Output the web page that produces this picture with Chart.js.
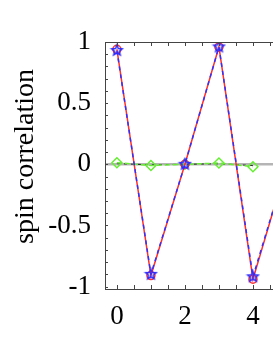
<!DOCTYPE html>
<html><head><meta charset="utf-8">
<script src="https://cdn.jsdelivr.net/npm/chart.js@4"></script>
<style>html,body{margin:0;padding:0;background:#fff;overflow:hidden;width:273px;height:353px}canvas{display:block}</style>
</head><body>
<canvas id="c" width="340" height="353"></canvas>
<script>
const xValues = [0, 1, 2, 3, 4, 5];
const redSeries = [0.94, -0.91, 0.0, 0.96, -0.94, 0.0];
const blueSeries = [0.93, -0.90, 0.0, 0.96, -0.92, 0.0];
const greenSeries = [0.013, -0.01, 0.0, 0.01, -0.02];
const blackSeries = [0.005, -0.004, 0.0, 0.004, -0.01];
const yTickLabels = [-1, -0.5, 0, 0.5, 1];
const xTickLabels = [0, 2, 4, 6];
const yTitle = 'spin correlation';

function pts(arr){ return arr.map((y,i)=>({x:xValues[i], y:y})); }

function makeStar(color, r){
  const s = Math.ceil(r*2+4), c = document.createElement('canvas');
  c.width = s; c.height = s;
  const g = c.getContext('2d');
  g.strokeStyle = color; g.lineWidth = 1.5;
  g.beginPath();
  for (let k=0;k<10;k++){
    const rr = k%2===0 ? r : r*0.45;
    const a = -Math.PI/2 + k*Math.PI/5;
    const px = s/2 + rr*Math.cos(a), py = s/2 + rr*Math.sin(a);
    k===0 ? g.moveTo(px,py) : g.lineTo(px,py);
  }
  g.closePath(); g.stroke();
  return c;
}
const starImg = makeStar('#2a2aff', 5.5);

const serif = "'Liberation Serif','DejaVu Serif',serif";

const frame = {
  id:'frame',
  beforeDatasetsDraw(chart){
    const {ctx, chartArea:a, scales:{x,y}} = chart;
    ctx.save();
    ctx.strokeStyle = '#b5b5b5'; ctx.lineWidth = 2.5;
    const y0 = y.getPixelForValue(0);
    ctx.beginPath(); ctx.moveTo(a.left, y0); ctx.lineTo(a.right, y0); ctx.stroke();
    ctx.restore();
  },
  afterDatasetsDraw(chart){
    const {ctx, chartArea:a, scales:{x,y}} = chart;
    ctx.save();
    ctx.strokeStyle = '#444'; ctx.lineWidth = 1;
    ctx.strokeRect(a.left+0.5, a.top+0.5, a.right-a.left, a.bottom-a.top);
    ctx.beginPath();
    for (let v=-10; v<=10; v++){
      const py = Math.round(y.getPixelForValue(v/10))+0.5;
      ctx.moveTo(a.left, py); ctx.lineTo(a.left+3, py);
    }
    for (let v=0; v<=14; v++){
      const px = Math.round(x.getPixelForValue(v*0.5))+0.5;
      if (px < a.left || px > a.right) continue;
      ctx.moveTo(px, a.bottom); ctx.lineTo(px, a.bottom-4);
      ctx.moveTo(px, a.top); ctx.lineTo(px, a.top+4);
    }
    ctx.stroke();
    // y-axis title
    ctx.fillStyle = '#000';
    ctx.font = "28px " + serif;
    ctx.textAlign = 'center'; ctx.textBaseline = 'middle';
    ctx.translate(26, (a.top + a.bottom)/2 - 9);
    ctx.rotate(-Math.PI/2);
    ctx.fillText(yTitle, 0, 0);
    ctx.restore();
  }
};

new Chart(document.getElementById('c'), {
  type:'line',
  data:{ datasets:[
    { data: pts(blackSeries), borderColor:'#222', borderWidth:1, borderDash:[3,4], pointRadius:0, fill:false, order:4 },
    { data: pts(greenSeries), borderColor:'#66ee33', borderWidth:1.5, borderDash:[5,3], pointStyle:'rectRot', pointRadius:5, pointBorderColor:'#66ee33', pointBackgroundColor:'rgba(0,0,0,0)', pointBorderWidth:1.5, fill:false, order:3 },
    { data: pts(redSeries), borderColor:'#ff3030', borderWidth:1.5, pointStyle:'circle', pointRadius:4, pointBorderColor:'#ff3030', pointBackgroundColor:'rgba(0,0,0,0)', pointBorderWidth:1.5, fill:false, order:2 },
    { data: pts(blueSeries), borderColor:'#3030ff', borderWidth:1.5, borderDash:[4,4], pointStyle:starImg, pointRadius:5, fill:false, order:1 }
  ]},
  plugins:[frame],
  options:{
    responsive:false, animation:false,
    layout:{ padding:{ top:42, left:0, right:0, bottom:0 } },
    plugins:{ legend:{display:false}, tooltip:{enabled:false} },
    elements:{ line:{ tension:0 } },
    scales:{
      x:{ type:'linear', min:-0.35, max:6.27,
        grid:{ display:false, drawTicks:false }, border:{ display:false },
        afterBuildTicks: s => { s.ticks = xTickLabels.map(v=>({value:v})); },
        afterFit: s => { s.height = 64; },
        ticks:{ padding:12, color:'#000', font:{ family:serif, size:27 }, maxRotation:0, autoSkip:false, callback: v => String(v) }
      },
      y:{ type:'linear', min:-1.02, max:1.0,
        grid:{ display:false, drawTicks:false }, border:{ display:false },
        afterBuildTicks: s => { s.ticks = yTickLabels.map(v=>({value:v})); },
        afterFit: s => { s.width = 105; },
        ticks:{ padding:14, color:'#000', font:{ family:serif, size:27 }, autoSkip:false, callback: v => String(v) },
        title:{ display:false }
      }
    }
  }
});
</script>
</body></html>
